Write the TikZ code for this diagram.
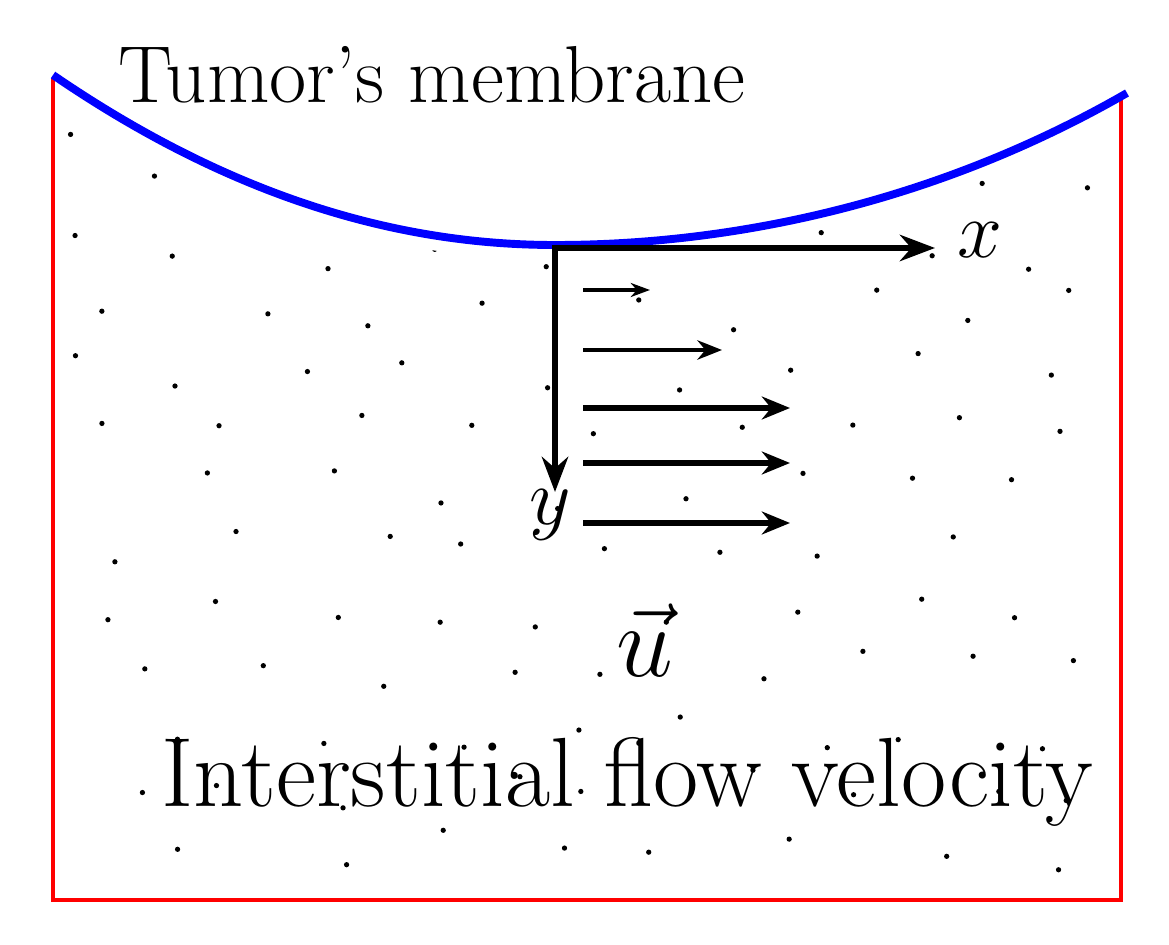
\RequirePackage{fix-cm}
\documentclass[tikz,border=0pt]{standalone}
\usetikzlibrary{arrows.meta}
\begin{document}
\begin{tikzpicture}[x=0.02cm,y=-0.02cm,
  ax/.style={line width=3.2pt,-{Stealth[length=20pt,width=15pt]}},
  vel/.style={line width=3.2pt,-{Stealth[length=16pt,width=13pt]}},
  dot/.style={fill=black,circle,inner sep=0pt,minimum size=3pt}]
\useasboundingbox (0,0) rectangle (1169,945);
\begin{scope}
\clip (60,95) .. controls (250,225) and (420,260) .. (555,260) .. controls (750,260) and (950,210) .. (1110,115) -- (1110,890) -- (60,890) -- cycle;
\pgfmathsetseed{7}
\foreach \r in {0,...,12}{
  \foreach \c in {0,...,8}{
    \pgfmathsetmacro{\px}{75+\c*120+mod(\r,2)*55+rand*35}
    \pgfmathsetmacro{\py}{130+\r*60+rand*20}
    \node[dot] at (\px,\py) {};
  }}
\end{scope}
\draw[red,line width=1.8pt] (53,78) -- (53,900) -- (1121,900) -- (1121,95);
\draw[blue,line width=4.5pt] (53,75) .. controls (250,210) and (420,245) .. (555,245) .. controls (750,245) and (950,195) .. (1127,93);
\node[anchor=west,font=\fontsize{46}{52}\selectfont] (t) at (112,75) {Tumor's membrane};
\node[anchor=west,font=\fontsize{56}{64}\selectfont] (i) at (155,782) {Interstitial flow velocity};
\coordinate (o) at (555,248);
\coordinate (xe) at (935,248);
\coordinate (ye) at (555,492);
\draw[ax] ([xshift=-1.6pt]o) -- (xe);
\draw[ax] (o) -- (ye);
\node[font=\fontsize{46}{50}\selectfont] (xl) at (980,240) {$x$};
\node[font=\fontsize{46}{50}\selectfont] (yl) at (550,515) {$y$};
\node[font=\fontsize{58}{64}\selectfont] (u) at (645,640) {$\vec u$};
\draw[line width=2pt,-{Stealth[length=11pt,width=8pt]}] (583,290) -- (650,290);
\draw[line width=2.8pt,-{Stealth[length=14pt,width=11pt]}] (583,350) -- (722,350);
\draw[vel] (583,408) -- (790,408);
\draw[vel] (583,463) -- (790,463);
\draw[vel] (583,523) -- (790,523);
\end{tikzpicture}
\end{document}
